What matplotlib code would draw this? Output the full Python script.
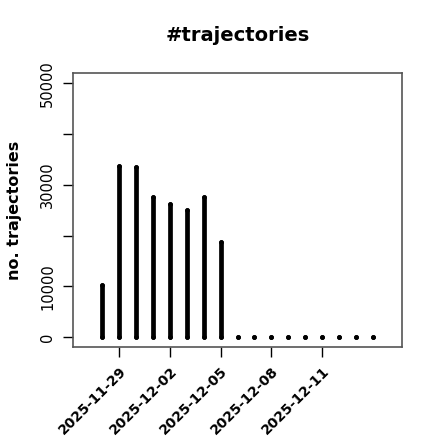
import datetime as dt

import matplotlib
matplotlib.use("Agg")
import matplotlib.pyplot as plt
import matplotlib.dates as mdates

start = dt.date(2025, 11, 28)
dates = [start + dt.timedelta(days=i) for i in range(17)]
counts = [10300, 33750, 33550, 27700, 26300, 25100, 27700, 18700,
          0, 0, 0, 0, 0, 0, 0, 0, 0]
tick_dates = [dt.date(2025, 11, 29), dt.date(2025, 12, 2), dt.date(2025, 12, 5),
              dt.date(2025, 12, 8), dt.date(2025, 12, 11)]
y_ticks = [0, 10000, 20000, 30000, 40000, 50000]
y_labels = ['0', '10000', '', '30000', '', '50000']

plt.rcParams['font.family'] = ['DejaVu Sans']

fig = plt.figure(figsize=(4.4, 4.4), dpi=100)
ax = fig.add_axes([0.1667, 0.2107, 0.7463, 0.6227])

x = mdates.date2num(dates)
ax.vlines(x, 0, counts, color='black', linewidth=3.4, capstyle='round')
ax.scatter(x, [0] * len(x), s=12, color='black', zorder=3, linewidths=0)
ax.scatter(x, counts, s=12, color='black', zorder=3, linewidths=0)

ax.set_xlim(x[0] - 1.72, x[-1] + 1.72)
ax.set_ylim(-2000, 52000)

ax.set_xticks(mdates.date2num(tick_dates))
ax.set_xticklabels([d.strftime('%Y-%m-%d') for d in tick_dates],
                   rotation=45, ha='right', rotation_mode='anchor',
                   fontsize=10, fontweight='bold')
ax.set_yticks(y_ticks)
ax.set_yticklabels(y_labels, rotation=90, va='center', fontsize=10.5)

ax.tick_params(axis='both', length=7, width=1, color='black', direction='out')
ax.tick_params(axis='x', pad=5)
ax.tick_params(axis='y', pad=6)

for s in ax.spines.values():
    s.set_color('#555555')
    s.set_linewidth(1.2)

ax.set_title('#trajectories', fontsize=14, fontweight='bold', pad=23)
ax.set_ylabel('no. trajectories', fontsize=11.5, fontweight='bold', labelpad=13)

fig.savefig('out.png', dpi=100)
